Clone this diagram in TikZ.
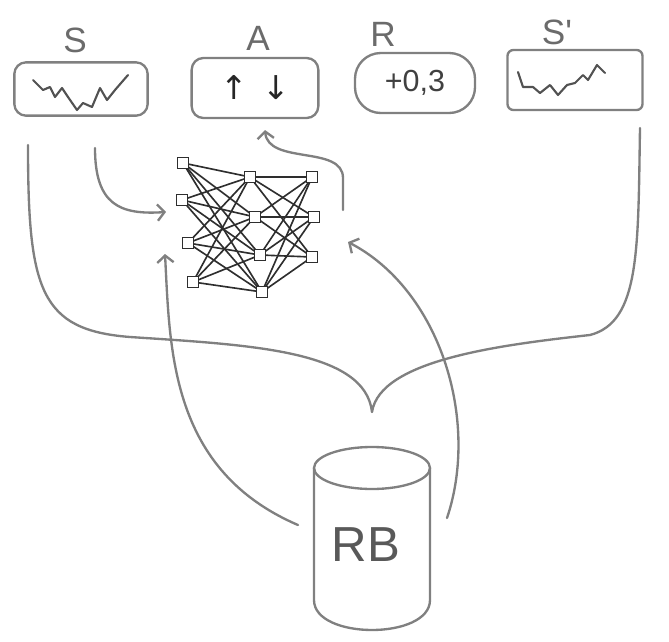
\documentclass[tikz,border=0pt]{standalone}
\usepackage{fontspec}
\setmainfont{Liberation Sans}
\newfontfamily\lblfont{Liberation Sans}
\newfontfamily\dvfont{DejaVu Sans}
\usetikzlibrary{arrows.meta}
\begin{document}
\begin{tikzpicture}[x=0.03cm,y=-0.03cm,
  sk/.style={draw=black!50, line width=2pt, line cap=round, line join=round},
  squig/.style={draw=black!68, line width=1.8pt, line cap=round, line join=round},
  netedge/.style={draw=black!82, line width=1.4pt},
  box/.style={sk, rounded corners=10pt, inner sep=0pt},
  lbl/.style={text=black!58, font=\lblfont\fontsize{30}{30}\selectfont},
  neuron/.style={draw=black!82, line width=1.3pt, minimum size=0.34cm, inner sep=0pt, fill=white},
  tip/.style={-{Straight Barb[length=6pt,width=14pt,line width=2pt]}}
]
\useasboundingbox (0,0) rectangle (669,642);

% labels
\node[lbl] (ls) at (75,40) {S};
\node[lbl] (la) at (258,38) {A};
\node[lbl] (lr) at (383,34) {R};
\node[lbl] (lsp) at (557,32) {S'};

% boxes
\node[box, minimum width=4cm, minimum height=1.6cm] (sbox) at (81,89) {};
\node[box, minimum width=3.8cm, minimum height=1.8cm] (abox) at (255,88) {\dvfont\fontsize{28}{28}\selectfont\color{black!85}↑\hspace{0.45cm}↓};
\node[box, rounded corners=22pt, minimum width=3.6cm, minimum height=1.8cm] (rbox) at (415,83) {\lblfont\fontsize{26}{26}\selectfont\color{black!75}+0,3};
\node[box, rounded corners=5pt, minimum width=4.05cm, minimum height=1.8cm] (spbox) at (575,80) {};

% squiggles
\draw[squig] (33,80) -- (43,90) -- (50,87) -- (55,97) -- (62,88) -- (68,97) -- (77,110) -- (83,103) -- (92,107) -- (100,88) -- (107,100) -- (115,90) -- (128,75);
\draw[squig] (518,72) -- (523,87) -- (533,87) -- (540,93) -- (550,85) -- (558,95) -- (567,85) -- (575,83) -- (583,75) -- (588,80) -- (597,65) -- (605,73);

% network
\foreach \n/\x/\y in {l1/183/163, l2/182/200, l3/188/243, l4/193/282,
                       m1/250/177, m2/255/217, m3/260/255, m4/262/292,
                       o1/312/177, o2/314/217, o3/312/257}
  \coordinate (c\n) at (\x,\y);
\foreach \a in {l1,l2,l3,l4}
  \foreach \b in {m1,m2,m3,m4}
    \draw[netedge] (c\a) -- (c\b);
\foreach \a in {m1,m2,m3,m4}
  \foreach \b in {o1,o2,o3}
    \draw[netedge] (c\a) -- (c\b);
\foreach \n in {l1,l2,l3,l4,m1,m2,m3,m4,o1,o2,o3}
  \node[neuron] (\n) at (c\n) {};

% cylinder RB
\node[minimum width=3.5cm, minimum height=5.3cm] (rb) at (372,537) {};
\draw[sk] (372,468) ellipse [x radius=1.74cm, y radius=0.63cm];
\draw[sk] (314,468) -- (314,600) .. controls (314,640) and (430,640) .. (430,600) -- (430,468);
\node[text=black!65, font=\lblfont\fontsize{42}{42}\selectfont] (rbl) at (366,545) {RB};

% connector end points
\coordinate (sin) at (95,148);
\coordinate (nin) at (166,212);
\coordinate (nout) at (343,210);
\coordinate (aout) at (265,130);
\coordinate (rbl1) at (298,525);
\coordinate (rbr1) at (447,518);
\coordinate (nl) at (165,254);
\coordinate (nr) at (348,242);
\coordinate (bl) at (28,145);
\coordinate (br) at (640,128);

% connectors
\draw[sk, tip] (sin) .. controls (95,205) and (120,215) .. (nin);
\draw[sk, tip] (nout) -- (343,178) .. controls (343,145) and (268,165) .. (aout);
\draw[sk, tip] (rbl1) .. controls (170,470) and (170,350) .. (nl);
\draw[sk, tip] (rbr1) .. controls (480,420) and (440,290) .. (nr);
\draw[sk] (bl) .. controls (28,290) and (40,330) .. (130,337)
          .. controls (250,345) and (365,350) .. (372,412)
          .. controls (380,360) and (500,345) .. (590,335)
          .. controls (640,322) and (638,250) .. (br);
\end{tikzpicture}
\end{document}
